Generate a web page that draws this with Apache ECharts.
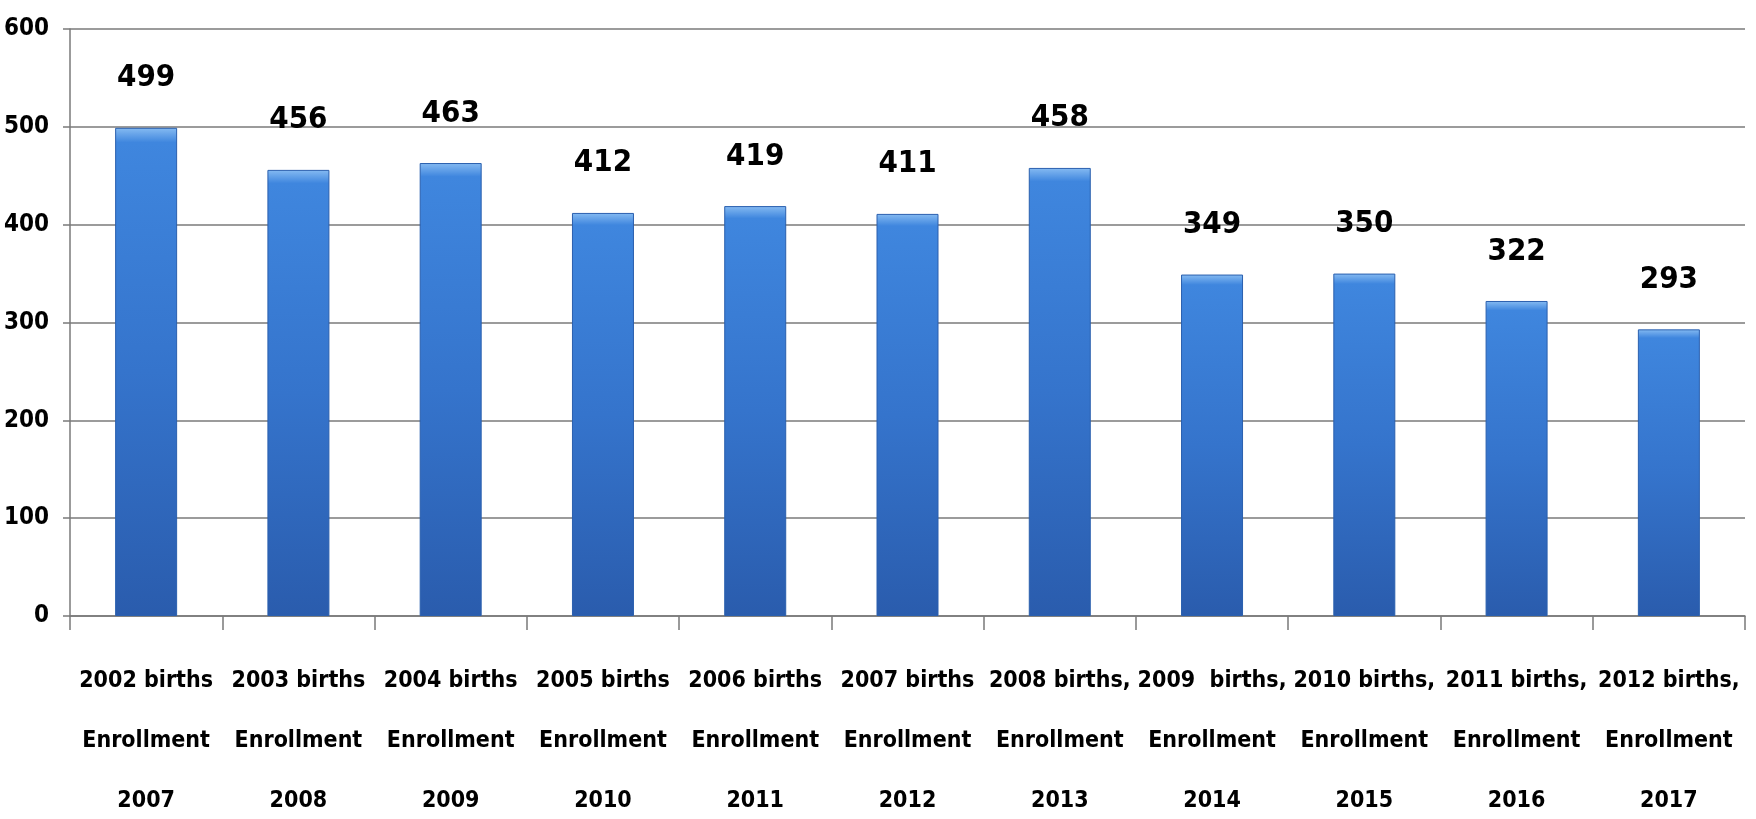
<!DOCTYPE html>
<html>
<head>
<meta charset="utf-8">
<script src="https://cdn.jsdelivr.net/npm/echarts@6/dist/echarts.min.js"></script>
<style>html,body{margin:0;padding:0;background:#fff}#c{width:1756px;height:819px}</style>
</head>
<body>
<div id="c"></div>
<script>
const categories = [
  "2002 births\nEnrollment\n2007",
  "2003 births\nEnrollment\n2008",
  "2004 births\nEnrollment\n2009",
  "2005 births\nEnrollment\n2010",
  "2006 births\nEnrollment\n2011",
  "2007 births\nEnrollment\n2012",
  "2008 births,\nEnrollment\n2013",
  "2009  births,\nEnrollment\n2014",
  "2010 births,\nEnrollment\n2015",
  "2011 births,\nEnrollment\n2016",
  "2012 births,\nEnrollment\n2017"
];
const enrollment = [499, 456, 463, 412, 419, 411, 458, 349, 350, 322, 293];
const yTicks = { min: 0, max: 600, interval: 100 };

const font = "'DejaVu Sans Condensed', 'Liberation Sans Narrow', sans-serif";
const chart = echarts.init(document.getElementById('c'));
chart.setOption({
  animation: false,
  backgroundColor: '#fff',
  grid: { left: 70, right: 11, top: 29, bottom: 203, containLabel: false, outerBoundsMode: 'none' },
  xAxis: {
    type: 'category',
    data: categories,
    axisLine: { show: true, lineStyle: { color: '#7a7a7a', width: 1.5 } },
    axisTick: { show: true, length: 14, lineStyle: { color: '#7a7a7a', width: 1.5 } },
    axisLabel: {
      interval: 0, margin: 35, color: '#000', fontFamily: font, fontWeight: 'bold',
      fontSize: 23, lineHeight: 60
    }
  },
  yAxis: {
    type: 'value',
    min: yTicks.min, max: yTicks.max, interval: yTicks.interval,
    axisLine: { show: true, lineStyle: { color: '#7a7a7a', width: 1.5 } },
    axisTick: { show: true, length: 7, lineStyle: { color: '#7a7a7a', width: 1.5 } },
    splitLine: { show: true, lineStyle: { color: '#7a7a7a', width: 1.5 } },
    axisLabel: { margin: 21, color: '#000', fontFamily: font, fontWeight: 'bold', fontSize: 24 }
  },
  series: [{
    type: 'bar',
    data: enrollment,
    barWidth: 62,
    itemStyle: {
      color: new echarts.graphic.LinearGradient(0, 0, 0, 1, [
        { offset: 0, color: '#86bbf2' },
        { offset: 0.03, color: '#3f86de' },
        { offset: 0.5, color: '#3574cc' },
        { offset: 1, color: '#2a5cad' }
      ]),
      borderColor: '#2a5fae', borderWidth: 1
    },
    label: {
      show: true, position: 'top', distance: 34, color: '#000',
      fontFamily: font, fontWeight: 'bold', fontSize: 31
    }
  }]
});
</script>
</body>
</html>
